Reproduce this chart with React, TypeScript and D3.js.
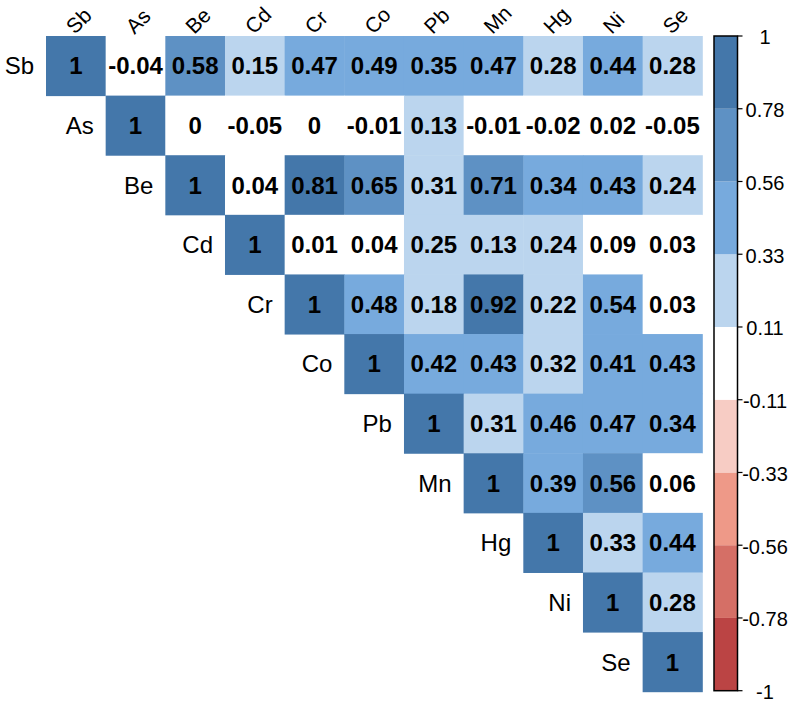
import React from "react";
import * as d3 from "d3";

const variables = ["Sb", "As", "Be", "Cd", "Cr", "Co", "Pb", "Mn", "Hg", "Ni", "Se"];

// upper-triangle rows, starting at the diagonal
const rowSb = [1, -0.04, 0.58, 0.15, 0.47, 0.49, 0.35, 0.47, 0.28, 0.44, 0.28];
const rowAs = [1, 0, -0.05, 0, -0.01, 0.13, -0.01, -0.02, 0.02, -0.05];
const rowBe = [1, 0.04, 0.81, 0.65, 0.31, 0.71, 0.34, 0.43, 0.24];
const rowCd = [1, 0.01, 0.04, 0.25, 0.13, 0.24, 0.09, 0.03];
const rowCr = [1, 0.48, 0.18, 0.92, 0.22, 0.54, 0.03];
const rowCo = [1, 0.42, 0.43, 0.32, 0.41, 0.43];
const rowPb = [1, 0.31, 0.46, 0.47, 0.34];
const rowMn = [1, 0.39, 0.56, 0.06];
const rowHg = [1, 0.33, 0.44];
const rowNi = [1, 0.28];
const rowSe = [1];
const rows = [rowSb, rowAs, rowBe, rowCd, rowCr, rowCo, rowPb, rowMn, rowHg, rowNi, rowSe];

const paletteAnchors = ["#BB4444", "#EE9988", "#FFFFFF", "#77AADD", "#4477AA"];
const legendLabels = ["-1", "-0.78", "-0.56", "-0.33", "-0.11", "0.11", "0.33", "0.56", "0.78", "1"];

const NBINS = 9;
const breaks = d3.range(NBINS + 1).map((i) => -1 + (i * 2) / NBINS);
const ramp = d3
  .scaleLinear<string>()
  .domain(d3.range(paletteAnchors.length).map((i) => i / (paletteAnchors.length - 1)))
  .range(paletteAnchors)
  .interpolate(d3.interpolateRgb);
const binColors = d3.range(NBINS).map((i) => ramp(i / (NBINS - 1)));
const colorScale = d3.scaleThreshold<number, string>().domain(breaks.slice(1, -1)).range(binColors);

const FONT = "'Liberation Sans', Arial, sans-serif";

export default function App() {
  const x0 = 46;
  const y0 = 36;
  const gridW = 656.3;
  const gridH = 655.7;
  const xs = d3.scaleBand().domain(variables).range([x0, x0 + gridW]);
  const ys = d3.scaleBand().domain(variables).range([y0, y0 + gridH]);
  const bw = xs.bandwidth();
  const bh = ys.bandwidth();

  const cells: { r: number; c: number; v: number }[] = [];
  rows.forEach((row, r) => row.forEach((v, k) => cells.push({ r, c: r + k, v })));

  const cbX = 714;
  const cbW = 23.5;
  const cbTop = 36;
  const cbBottom = 690.7;
  const cy = d3.scaleLinear().domain([-1, 1]).range([cbBottom, cbTop]);

  return (
    <svg
      width={800}
      height={706}
      style={{ position: "absolute", left: 0, top: 0, background: "#fff" }}
      fontFamily={FONT}
    >
      <rect x={0} y={0} width={800} height={706} fill="#fff" />
      {cells.map((d, i) => (
        <rect
          key={"c" + i}
          x={xs(variables[d.c])!}
          y={ys(variables[d.r])!}
          width={bw + 0.5}
          height={bh + 0.5}
          fill={colorScale(d.v)}
        />
      ))}
      {cells.map((d, i) => (
        <text
          key={"t" + i}
          x={xs(variables[d.c])! + bw / 2}
          y={ys(variables[d.r])! + bh / 2}
          dy="0.36em"
          textAnchor="middle"
          fontSize={24}
          fontWeight="bold"
          fill="#000"
        >
          {String(d.v)}
        </text>
      ))}
      {variables.map((v) => (
        <text
          key={"rl" + v}
          x={xs(v)! - 12}
          y={ys(v)! + bh / 2}
          dy="0.36em"
          textAnchor="end"
          fontSize={24}
          fill="#000"
        >
          {v}
        </text>
      ))}
      {variables.map((v) => {
        const tx = xs(v)! + bw / 2 - 1;
        const ty = y0 - 1;
        return (
          <text
            key={"cl" + v}
            x={tx}
            y={ty}
            transform={`rotate(-45, ${tx}, ${ty})`}
            textAnchor="start"
            fontSize={21}
            fill="#000"
          >
            {v}
          </text>
        );
      })}
      {/* color legend */}
      {binColors.map((col, i) => (
        <rect
          key={"lb" + i}
          x={cbX}
          y={cy(breaks[i + 1])}
          width={cbW}
          height={cy(breaks[i]) - cy(breaks[i + 1])}
          fill={col}
        />
      ))}
      <rect x={cbX} y={cbTop} width={cbW} height={cbBottom - cbTop} fill="none" stroke="#000" strokeWidth={1.5} />
      {breaks.map((b, i) => (
        <g key={"tk" + i}>
          <line x1={cbX + cbW} x2={cbX + cbW + 5} y1={cy(b)} y2={cy(b)} stroke="#000" strokeWidth={1.2} />
          <text x={765} y={cy(b)} dy="0.42em" textAnchor="middle" fontSize={20} fill="#000">
            {legendLabels[i]}
          </text>
        </g>
      ))}
    </svg>
  );
}
